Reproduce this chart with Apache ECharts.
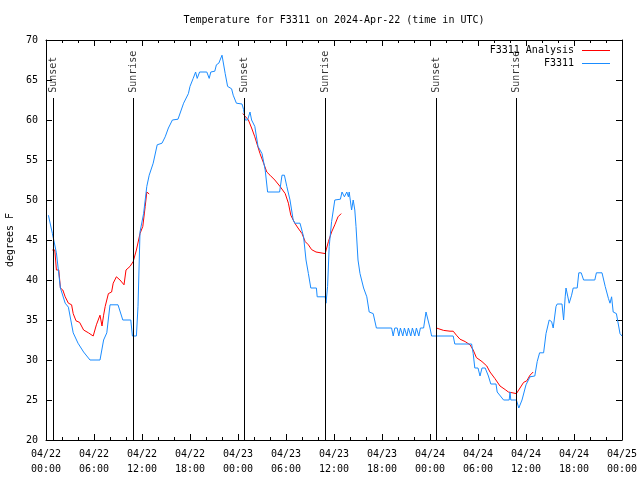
<!DOCTYPE html>
<html>
<head>
<meta charset="utf-8">
<script src="https://cdn.jsdelivr.net/npm/echarts@6/dist/echarts.min.js"></script>
<style>html,body{margin:0;padding:0;background:#fff}#c{width:640px;height:480px}</style>
</head>
<body>
<div id="c"></div>
<script>
// Data (hours since 04/22 00:00 UTC, degrees F)
var xTickLabels = ['04/22\n00:00','04/22\n06:00','04/22\n12:00','04/22\n18:00','04/23\n00:00','04/23\n06:00','04/23\n12:00','04/23\n18:00','04/24\n00:00','04/24\n06:00','04/24\n12:00','04/24\n18:00','04/25\n00:00'];
var sunHours = [0.875, 10.875, 24.75, 34.875, 48.75, 58.75];
var sunLabels = ['Sunset','Sunrise','Sunset','Sunrise','Sunset','Sunrise'];

var observed = [[0.3,48.1],[0.8,45.8],[1.3,43.4],[1.8,39],[2.4,37.1],[2.8,36.6],[3.4,33.4],[4.0,32.1],[4.7,31],[5.5,30],[6.75,30],[7.2,32.5],[7.6,33.4],[8.0,36.9],[9.0,36.9],[9.6,35],[10.6,35],[10.8,33],[11.3,33],[11.5,36.7],[11.75,46],[12.2,48.3],[12.6,51.7],[12.9,53.1],[13.4,54.6],[13.9,56.9],[14.5,57.1],[14.9,57.9],[15.3,59],[15.8,60],[16.5,60.1],[17.2,62.1],[17.8,63.3],[18.0,64.2],[18.4,65.2],[18.7,66],[18.9,65.2],[19.2,66],[20.1,66],[20.4,65.2],[20.6,66],[21.1,66.1],[21.3,66.9],[21.6,67.1],[22.0,68.1],[22.4,65.8],[22.7,64.2],[23.2,63.9],[23.4,63.1],[23.8,62.1],[24.5,62],[24.7,61.3],[24.9,60],[25.2,60],[25.5,61],[25.7,60],[26.1,59.2],[26.5,56.7],[27.0,55.8],[27.4,53.75],[27.7,51],[29.2,51],[29.5,53.1],[29.8,53.1],[30.1,51.7],[30.5,50],[30.9,47.5],[31.1,47.1],[31.75,47.1],[32.2,45.4],[32.5,42.5],[32.8,40.8],[33.1,39],[33.8,39],[33.9,37.9],[34.9,37.9],[35.0,37.1],[35.2,39.2],[35.4,44.2],[35.7,47.3],[36.1,50],[36.8,50.1],[37.0,51],[37.3,50.4],[37.6,51],[37.8,50.4],[37.9,51],[38.2,48.75],[38.4,50],[38.6,48.75],[38.75,46.7],[39.0,42.5],[39.25,40.8],[39.7,39],[40.1,37.9],[40.4,36],[40.9,35.8],[41.3,34],[43.2,34],[43.4,33],[43.6,34],[43.9,34],[44.1,33],[44.3,34],[44.6,33],[44.8,34],[45.1,33],[45.3,34],[45.6,33],[45.8,34],[46.1,33],[46.3,34],[46.6,33],[46.8,34],[47.2,34],[47.5,36],[47.7,35.8],[48.0,34],[48.2,33],[50.9,33],[51.1,32],[53.2,32],[53.4,30.8],[53.6,29],[54.0,29],[54.25,28],[54.5,29],[54.9,29],[55.3,28],[55.6,27],[56.25,27],[56.4,26],[57.2,25],[57.9,25],[58.0,26],[58.1,25],[58.8,25],[59.1,24],[59.5,25],[59.7,25],[60.0,26.9],[60.5,27.9],[61.1,28],[61.4,29.8],[61.7,30.9],[62.2,30.9],[62.5,33.3],[62.9,35],[63.2,34.8],[63.4,34],[63.75,36.7],[63.9,37],[64.5,37],[64.7,35],[64.9,37.9],[65.0,39],[65.4,37.1],[65.7,38.1],[65.9,39],[66.4,39],[66.6,40.9],[66.9,40.9],[67.2,40],[68.6,40],[68.8,40.9],[69.5,40.9],[69.9,39.2],[70.3,37.7],[70.5,37.1],[70.7,37.9],[70.9,36],[71.3,35.8],[71.75,33.3],[72,33]];

var analysis1 = [[0.8,43.75],[1.1,43.75],[1.3,41.25],[1.6,41.25],[1.8,39],[2.1,38.75],[2.4,37.9],[2.8,37.1],[3.2,36.9],[3.4,35.8],[3.75,34.9],[4.2,34.7],[4.7,33.75],[5.3,33.4],[5.9,33],[6.3,34.4],[6.75,35.6],[7.0,34.25],[7.2,35.6],[7.4,36.7],[7.8,38.3],[8.2,38.5],[8.4,39.6],[8.8,40.4],[9.25,40],[9.75,39.4],[10.0,41.25],[10.5,41.7],[10.9,42.3],[11.3,43.75],[11.75,45.8],[12.1,46.7],[12.4,49.2],[12.6,51],[12.9,50.75]];
var analysis2 = [[24.6,60.8],[25.3,60],[25.7,59],[26.1,57.9],[26.75,55.8],[27.2,54.6],[27.6,53.5],[28,53.1],[28.6,52.5],[29.25,51.7],[29.9,50.8],[30.3,49.6],[30.6,48.1],[31.1,47.1],[31.5,46.5],[32,45.8],[32.4,44.8],[32.8,44.4],[33.2,43.8],[33.75,43.5],[34.9,43.3],[35.3,44.8],[35.7,46],[36.1,46.9],[36.5,47.9],[36.9,48.3]];
var analysis3 = [[48.8,34],[49.7,33.7],[50.5,33.6],[50.9,33.6],[51.3,33.1],[51.75,32.6],[52.4,32.3],[53,31.9],[53.4,31.25],[53.8,30.3],[54.5,29.8],[55.1,29.25],[55.5,28.5],[56.1,27.7],[56.75,26.75],[57.4,26.3],[57.8,26],[58.8,25.8],[59.25,26.5],[59.7,27.2],[60.1,27.4],[60.5,28.1],[60.9,28.5]];

var FONT = 'DejaVu Sans Mono';
var RED = '#ff0000', BLUE = '#1a8cff';

var chart = echarts.init(document.getElementById('c'), null, {renderer: 'canvas'});

function xAxisCfg(pos, showLabels) {
  return {
    type: 'value', position: pos, min: 0, max: 72, interval: 6,
    axisLine: {show: true, onZero: false, lineStyle: {color: '#000', width: 1}},
    axisTick: {show: true, inside: true, length: 6, lineStyle: {color: '#000'}},
    minorTick: {show: true, splitNumber: 3, length: 3, lineStyle: {color: '#000'}},
    splitLine: {show: false},
    axisLabel: {show: showLabels, color: '#000', fontFamily: FONT, fontSize: 10, lineHeight: 15, margin: 7,
      formatter: function (v) { return xTickLabels[Math.round(v / 6)] || ''; }}
  };
}
function yAxisCfg(pos, showLabels) {
  return {
    type: 'value', position: pos, min: 20, max: 70, interval: 5,
    name: showLabels ? 'degrees F' : '', nameLocation: 'middle', nameGap: 31, nameRotate: 90,
    nameTextStyle: {color: '#000', fontFamily: FONT, fontSize: 10},
    axisLine: {show: true, onZero: false, lineStyle: {color: '#000', width: 1}},
    axisTick: {show: true, inside: true, length: 6, lineStyle: {color: '#000'}},
    splitLine: {show: false},
    axisLabel: {show: showLabels, color: '#000', fontFamily: FONT, fontSize: 10, margin: 8}
  };
}

function lineSeries(name, data, color) {
  return {
    name: name, type: 'line', data: data, xAxisIndex: 0, yAxisIndex: 0,
    showSymbol: false, symbol: 'none', lineStyle: {color: color, width: 1}, itemStyle: {color: color},
    animation: false, silent: true, z: 3
  };
}

var option = {
  backgroundColor: '#fff',
  animation: false,
  title: {
    text: 'Temperature for F3311 on 2024-Apr-22 (time in UTC)',
    left: 334, top: 15, textAlign: 'center', padding: 0,
    textStyle: {fontFamily: FONT, fontSize: 10, fontWeight: 'normal', color: '#000'}
  },
  legend: {
    data: ['F3311 Analysis', 'F3311'],
    orient: 'vertical', align: 'right', right: 30, top: 44, padding: 0,
    itemWidth: 28, itemHeight: 1, itemGap: 0, icon: 'rect',
    textStyle: {fontFamily: FONT, fontSize: 10, color: '#000', width: 86, align: 'right', lineHeight: 13, padding: [0, 3, 0, 0]},
    selectedMode: false
  },
  grid: {left: 46, right: 18, top: 40, bottom: 40, containLabel: false, outerBoundsMode: 'none'},
  xAxis: [xAxisCfg('bottom', true), xAxisCfg('top', false)],
  yAxis: [yAxisCfg('left', true), yAxisCfg('right', false)],
  series: [
    lineSeries('F3311 Analysis', analysis1, RED),
    lineSeries('F3311 Analysis', analysis2, RED),
    lineSeries('F3311 Analysis', analysis3, RED),
    lineSeries('F3311', observed, BLUE),
    {
      name: 'sun', type: 'scatter', symbolSize: 0, xAxisIndex: 0, yAxisIndex: 0,
      data: sunHours.map(function (h, i) { return {value: [h, 63.4], name: sunLabels[i]}; }),
      label: {show: true, position: 'inside', rotate: 90, align: 'left', verticalAlign: 'middle',
        formatter: function (p) { return p.name; }, fontFamily: FONT, fontSize: 10, color: '#000'},
      markLine: {
        silent: true, symbol: ['none', 'none'], animation: false,
        label: {show: false},
        lineStyle: {color: '#000', width: 1, type: 'solid'},
        data: sunHours.map(function (h) { return [{coord: [h, 20]}, {coord: [h, 62.75]}]; })
      },
      z: 2, silent: true
    }
  ]
};
chart.setOption(option);
</script>
</body>
</html>
